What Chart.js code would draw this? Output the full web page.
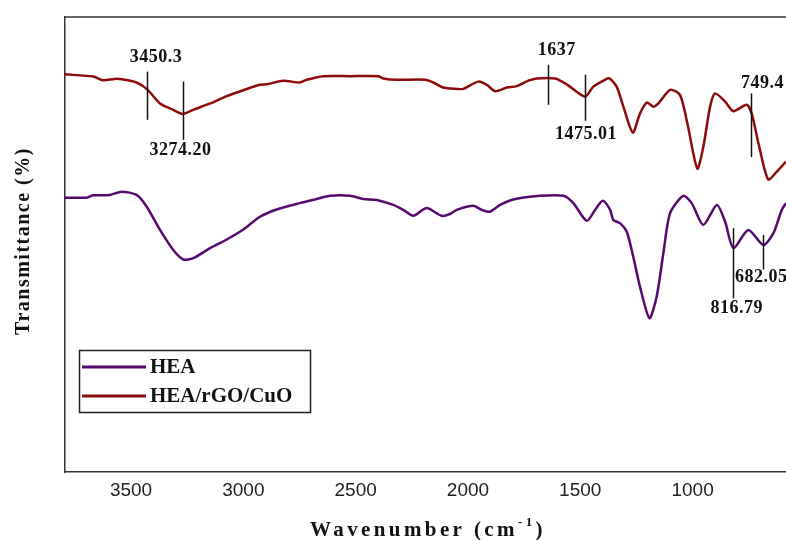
<!DOCTYPE html>
<html><head><meta charset="utf-8">
<script src="https://cdn.jsdelivr.net/npm/chart.js@4"></script>
<style>html,body{margin:0;padding:0;background:#fff}#wrap{width:786px;height:540px;position:relative;overflow:hidden}</style>
</head><body><div id="wrap"><canvas id="c" width="786" height="540"></canvas></div>
<script>
// ---- data ----
const xTickValues = [3500, 3000, 2500, 2000, 1500, 1000];

const heaWn = [3794,3697,3668,3594,3542,3475,3430,3371,3312,3267,3223,3148,3074,3000,2926,2851,2748,2673,2614,2525,2466,2406,2332,2288,2243,2184,2117,2080,2050,1976,1939,1902,1857,1798,1679,1575,1531,1471,1434,1400,1367,1353,1323,1293,1264,1234,1192,1160,1130,1100,1041,1004,952,892,855,818,752,685,640,603,584];
const heaT  = [60.3,60.3,60.8,60.9,61.6,60.9,58.3,53.2,48.8,46.7,47.0,49.2,51.1,53.3,56.1,57.7,59.1,60.0,60.7,60.7,60.0,59.8,58.7,57.6,56.3,58.0,56.3,56.7,57.6,58.5,57.6,57.2,58.7,59.9,60.7,60.7,59.1,55.2,57.6,59.6,57.6,55.4,54.7,52.8,47.3,40.7,33.8,38.5,48.1,56.9,60.7,59.1,54.3,58.7,55.0,49.2,53.2,49.9,52.5,57.6,59.1];

const hybWn = [3794,3668,3625,3571,3527,3475,3428,3371,3312,3270,3223,3148,3074,3000,2926,2896,2822,2748,2718,2644,2525,2399,2377,2317,2191,2154,2110,2050,2021,1954,1916,1879,1827,1783,1731,1694,1612,1560,1479,1442,1390,1370,1338,1308,1266,1234,1204,1175,1152,1100,1056,1023,979,952,922,900,855,818,759,737,700,663,625,584];
const hybT  = [87.4,86.9,86.1,86.4,86.2,85.6,84.1,81.0,79.6,78.7,79.6,81.0,82.6,83.9,85.1,85.2,86.0,85.6,86.2,87.0,87.0,87.0,86.5,86.2,86.2,85.6,84.5,84.2,84.2,85.8,85.1,83.7,84.5,84.8,86.0,86.5,86.5,85.2,82.5,84.7,86.2,86.5,84.7,80.3,74.6,78.8,81.2,80.3,81.0,84.0,82.9,76.6,66.7,71.5,80.3,83.2,81.4,79.3,80.7,78.8,70.8,64.3,66.0,68.2];

const seriesLabels = ['HEA', 'HEA/rGO/CuO'];
const peakWn   = [3428, 3270, 1642, 1479, 740, 818, 685];
const peakText = ['3450.3', '3274.20', '1637', '1475.01', '749.4', '816.79', '682.05'];

// ---- layout for peak markers (value units) ----
const peakLayout = [
  {top: 88.0, bot: 77.4, lx: 3389, ly: 91.2, align: 'center'},
  {top: 85.8, bot: 73.0, lx: 3280, ly: 70.8, align: 'center'},
  {top: 89.5, bot: 80.7, lx: 1605, ly: 92.7, align: 'center'},
  {top: 87.3, bot: 77.2, lx: 1474, ly: 74.2, align: 'center'},
  {top: 83.2, bot: 69.2, lx: 689,  ly: 85.4, align: 'center'},
  {top: 53.6, bot: 38.2, lx: 803,  ly: 36.0, align: 'center'},
  {top: 52.1, bot: 44.5, lx: 811,  ly: 42.8, align: 'left'}
];

const toXY = (w, t) => w.map((v, i) => ({x: v, y: t[i]}));

const SERIF = '"Liberation Serif", "Times New Roman", serif';

const extrasPlugin = {
  id: 'extras',
  afterDatasetsDraw(chart) {
    const {ctx, chartArea: ca, scales: {x, y}} = chart;
    ctx.save();
    // top frame line
    ctx.strokeStyle = '#333';
    ctx.lineWidth = 1.5;
    ctx.beginPath();
    ctx.moveTo(ca.left, ca.top);
    ctx.lineTo(ca.right, ca.top);
    ctx.stroke();

    // peak markers
    ctx.strokeStyle = '#111';
    ctx.lineWidth = 1.5;
    ctx.fillStyle = '#111';
    ctx.font = 'bold 18px ' + SERIF;
    ctx.letterSpacing = '0.5px';
    ctx.textBaseline = 'middle';
    peakWn.forEach((w, i) => {
      const L = peakLayout[i];
      const px = Math.round(x.getPixelForValue(w)) + 0.5;
      ctx.beginPath();
      ctx.moveTo(px, y.getPixelForValue(L.top));
      ctx.lineTo(px, y.getPixelForValue(L.bot));
      ctx.stroke();
      ctx.textAlign = L.align;
      ctx.fillText(peakText[i], x.getPixelForValue(L.lx), y.getPixelForValue(L.ly));
    });
    ctx.letterSpacing = '0px';

    // legend box
    const bx = 79, by = 350, bw = 231, bh = 62;
    ctx.strokeStyle = '#222';
    ctx.lineWidth = 1.5;
    ctx.fillStyle = '#fff';
    ctx.fillRect(bx, by, bw, bh);
    ctx.strokeRect(bx + 0.5, by + 0.5, bw, bh);
    ctx.font = 'bold 21px ' + SERIF;
    ctx.textAlign = 'left';
    ctx.textBaseline = 'middle';
    chart.data.datasets.forEach((ds, i) => {
      const ly = by + 17 + i * 29;
      ctx.strokeStyle = ds.borderColor;
      ctx.lineWidth = 3;
      ctx.beginPath();
      ctx.moveTo(bx + 3, ly);
      ctx.lineTo(bx + 67, ly);
      ctx.stroke();
      ctx.fillStyle = '#111';
      ctx.fillText(ds.label, bx + 71, ly + 1);
    });

    // axis titles
    ctx.fillStyle = '#111';
    ctx.textBaseline = 'alphabetic';
    ctx.textAlign = 'left';
    // x title with superscript
    ctx.letterSpacing = '3.4px';
    ctx.font = 'bold 21px ' + SERIF;
    const p1 = 'Wavenumber (cm', p3 = ')';
    const w1 = ctx.measureText(p1).width;
    ctx.font = 'bold 13px ' + SERIF;
    const p2 = '-1';
    const w2 = ctx.measureText(p2).width;
    ctx.font = 'bold 21px ' + SERIF;
    const w3 = ctx.measureText(p3).width;
    const total = w1 + w2 + w3;
    let sx = 428 - total / 2;
    const base = 536;
    ctx.fillText(p1, sx, base);
    ctx.font = 'bold 13px ' + SERIF;
    ctx.fillText(p2, sx + w1, base - 10);
    ctx.font = 'bold 21px ' + SERIF;
    ctx.fillText(p3, sx + w1 + w2, base);

    // y title
    ctx.letterSpacing = '1.5px';
    ctx.font = 'bold 20px ' + SERIF;
    ctx.translate(29, 241);
    ctx.rotate(-Math.PI / 2);
    ctx.textAlign = 'center';
    ctx.fillText('Transmittance (%)', 0, 0);
    ctx.restore();
  }
};

new Chart(document.getElementById('c'), {
  type: 'line',
  data: {
    datasets: [
      {label: seriesLabels[0], data: toXY(heaWn, heaT), borderColor: '#560a6e', borderWidth: 2.5, pointRadius: 0, tension: 0.25, fill: false},
      {label: seriesLabels[1], data: toXY(hybWn, hybT), borderColor: '#8e0b0b', borderWidth: 2.5, pointRadius: 0, tension: 0.25, fill: false}
    ]
  },
  options: {
    responsive: false,
    animation: false,
    devicePixelRatio: 1,
    layout: {padding: {top: 17, left: 0, right: 0, bottom: 0}},
    plugins: {legend: {display: false}, tooltip: {enabled: false}},
    scales: {
      x: {
        type: 'linear', reverse: true, min: 584, max: 3794,
        afterBuildTicks: s => { s.ticks = xTickValues.map(v => ({value: v})); },
        afterFit: s => { s.height = 68; },
        grid: {display: false, drawTicks: false},
        border: {display: true, color: '#333', width: 1.5},
        ticks: {
          callback: v => String(v),
          color: '#222',
          padding: 7,
          maxRotation: 0,
          font: {family: '"Liberation Sans", Arial, sans-serif', size: 19}
        }
      },
      y: {
        min: 0, max: 100,
        afterFit: s => { s.width = 65; },
        grid: {display: false, drawTicks: false},
        border: {display: true, color: '#333', width: 1.5},
        ticks: {display: false}
      }
    }
  },
  plugins: [extrasPlugin]
});
</script>
</body></html>
